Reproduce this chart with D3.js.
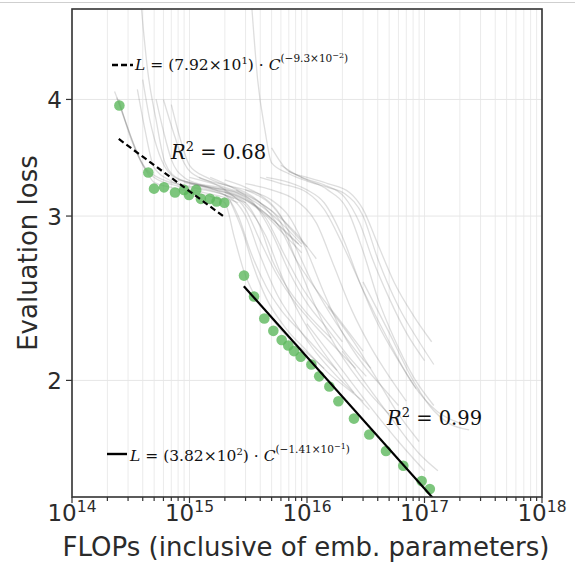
<!DOCTYPE html>
<html>
<head>
<meta charset="utf-8">
<script src="https://cdn.jsdelivr.net/npm/d3@7"></script>
<style>
body { margin: 0; background: #fff; }
svg { display: block; }
</style>
</head>
<body>
<svg id="chart"></svg>
<script>
// compute-optimal frontier (green dots)
var frontierFlops = [2.53e14, 4.46e14, 4.99e14, 6.07e14, 7.53e14, 8.98e14, 9.9e14, 1.14e15, 1.25e15, 1.49e15, 1.70e15, 1.98e15,
                     2.91e15, 3.54e15, 4.33e15, 5.17e15, 6.09e15, 6.93e15, 7.75e15, 8.84e15, 1.09e16, 1.27e16, 1.55e16, 1.85e16,
                     2.51e16, 3.39e16, 4.70e16, 6.60e16, 9.46e16, 1.11e17];
var frontierLoss  = [3.94, 3.34, 3.21, 3.22, 3.18, 3.20, 3.16, 3.20, 3.13, 3.13, 3.11, 3.10,
                     2.59, 2.46, 2.33, 2.26, 2.21, 2.18, 2.15, 2.12, 2.08, 2.02, 1.97, 1.90,
                     1.82, 1.75, 1.68, 1.62, 1.56, 1.53];

// fitted power laws L = a * C^b
var fitDashed = [79.2, -0.093];
var fitDashedRange = [2.5e14, 2e15];
var fitSolid = [382, -0.141];
var fitSolidRange = [2.9e15, 1.2e17];

var xTicks = [1e14, 1e15, 1e16, 1e17, 1e18];
var xTickExp = ["14", "15", "16", "17", "18"];
var yTicks = [2, 3, 4];

// individual training runs [flops, loss]
var runs = [
  [[2.3e14,4.08],[2.6e14,3.92],[3.3e14,3.6],[4.3e14,3.35],[5e14,3.26],[7e14,3.22],[1e15,3.19],[1.5e15,3.15],[2e15,3.12]],
  [[2.4e14,4.02],[3e14,3.72],[4e14,3.4],[5e14,3.3],[8e14,3.23],[1.3e15,3.18],[2e15,3.14],[2.6e15,3.1]],
  [[2.5e14,4.0],[3.2e14,3.62],[4.2e14,3.38],[6e14,3.28],[1e15,3.23],[1.6e15,3.19],[2.4e15,3.13]],
  [[3.6e14,4.1],[4.2e14,3.7],[5e14,3.38],[7e14,3.27],[1e15,3.22],[1.5e15,3.19],[2.2e15,3.15],[3e15,3.1]],
  [[3.9e14,5.0],[4.4e14,4.3],[5.2e14,3.8],[6.2e14,3.42],[8e14,3.29],[1.2e15,3.24],[2e15,3.18],[3e15,3.1],[4e15,2.92],[5e15,2.7],[7e15,2.5],[1e16,2.36],[1.6e16,2.22]],
  [[5.2e14,4.0],[6e14,3.7],[7e14,3.45],[9e14,3.3],[1.3e15,3.24],[2e15,3.2],[3e15,3.13],[5e15,2.98],[7e15,2.86],[9e15,2.78]],
  [[6e14,4.0],[7.5e14,3.65],[9e14,3.42],[1.2e15,3.3],[2e15,3.24],[3e15,3.18],[4e15,3.1],[6e15,2.9],[8e15,2.7],[1.2e16,2.5],[2e16,2.3],[3e16,2.15]],
  [[7e14,3.95],[8.5e14,3.6],[1e15,3.4],[1.4e15,3.3],[2e15,3.24],[3e15,3.2],[5e15,3.08],[7e15,2.92],[1e16,2.78]],
  [[1.5e15,3.15],[2e15,3.1],[2.4e15,2.85],[2.9e15,2.62],[3.5e15,2.48],[5e15,2.33],[7e15,2.22],[1e16,2.14],[1.4e16,2.06]],
  [[1e15,3.25],[2e15,3.16],[2.6e15,3.0],[3.3e15,2.75],[4.5e15,2.52],[6e15,2.38],[9e15,2.25],[1.3e16,2.14],[1.8e16,2.05]],
  [[1.2e15,3.3],[2e15,3.2],[3e15,3.05],[4e15,2.82],[5.5e15,2.6],[8e15,2.42],[1.2e16,2.28],[1.8e16,2.16],[2.6e16,2.06]],
  [[1.5e15,3.3],[2.5e15,3.2],[3.5e15,3.1],[5e15,2.88],[7e15,2.62],[1e16,2.42],[1.5e16,2.27],[2.2e16,2.13],[3.2e16,2.02]],
  [[2e15,3.28],[3e15,3.22],[4e15,3.16],[6e15,3.0],[8e15,2.78],[1.1e16,2.55],[1.6e16,2.35],[2.4e16,2.18],[3.5e16,2.06]],
  [[1e15,3.3],[2e15,3.22],[3e15,3.16],[5e15,3.04],[8e15,2.88],[1.2e16,2.7]],
  [[8e14,3.28],[1.5e15,3.22],[2.5e15,3.18],[4e15,3.08],[6e15,2.95],[9e15,2.8]],
  [[9e14,3.26],[1.6e15,3.2],[2.6e15,3.15],[4e15,3.05],[6e15,2.92],[8.5e15,2.8]],
  [[1.1e15,3.24],[2e15,3.19],[3e15,3.12],[4.5e15,3.0],[6.5e15,2.86],[9e15,2.74]],
  [[4e14,4.2],[4.6e14,3.8],[5.5e14,3.5],[7e14,3.32],[1e15,3.26],[2e15,3.21],[3e15,3.14],[4.5e15,2.98],[6.5e15,2.72],[9e15,2.52],[1.3e16,2.36],[2e16,2.2]],
  [[3.4e15,5.0],[3.8e15,4.2],[4.4e15,3.7],[5e15,3.42],[7e15,3.33],[1e16,3.27],[1.5e16,3.22],[2.1e16,3.17],[3e16,3.0],[4e16,2.7],[6e16,2.4],[9e16,2.2],[1.2e17,2.08]],
  [[5e15,3.55],[7e15,3.35],[1e16,3.3],[1.5e16,3.25],[2.3e16,3.18],[3e16,3.05],[4e16,2.8],[5.5e16,2.55],[8e16,2.35],[1.15e17,2.2]],
  [[6e15,3.4],[9e15,3.3],[1.4e16,3.24],[2.1e16,3.14],[2.8e16,2.95],[3.6e16,2.7],[5e16,2.45],[7e16,2.25],[1e17,2.1]],
  [[7e15,3.35],[1e16,3.28],[1.5e16,3.2],[2.2e16,3.05],[3e16,2.75],[4e16,2.45],[5.5e16,2.22],[8e16,2.02],[1.2e17,1.88]],
  [[4.5e15,3.3],[7e15,3.26],[1e16,3.2],[1.4e16,3.1],[2e16,2.85],[2.8e16,2.55],[4e16,2.3],[6e16,2.1],[8.5e16,1.96]],
  [[3e15,3.25],[5e15,3.2],[8e15,3.12],[1.2e16,2.95],[1.7e16,2.65],[2.4e16,2.38],[3.5e16,2.17],[5e16,2.02],[7e16,1.9]],
  [[3e15,3.2],[5e15,3.12],[7e15,3.0],[1e16,2.75],[1.4e16,2.48],[2e16,2.25],[3e16,2.08],[4.5e16,1.96],[6e16,1.88]],
  [[2.5e15,3.2],[4e15,3.1],[6e15,2.95],[8e15,2.7],[1.1e16,2.45],[1.6e16,2.22],[2.4e16,2.05],[3.5e16,1.93],[5e16,1.84]],
  [[2e15,3.18],[3e15,3.08],[4.5e15,2.85],[6e15,2.6],[8e15,2.4],[1.2e16,2.2],[1.8e16,2.05],[2.6e16,1.93],[3.4e16,1.86]],
  [[2e15,3.16],[3e15,3.0],[4e15,2.72],[5.5e15,2.48],[8e15,2.3],[1.2e16,2.14],[1.8e16,2.02],[2.5e16,1.94]],
  [[2.2e15,3.12],[2.8e15,2.9],[3.5e15,2.65],[4.5e15,2.45],[6.5e15,2.28],[1e16,2.15],[1.5e16,2.04],[2.2e16,1.96],[3e16,1.9]],
  [[1.5e16,2.4],[2.5e16,2.2],[4e16,2.0],[6e16,1.84],[9e16,1.72]],
  [[3e16,2.55],[5e16,2.25],[8e16,2.0],[1.1e17,1.88],[1.6e17,1.8],[2.4e17,1.77]],
  [[1e16,2.3],[2e16,2.05],[3.5e16,1.87],[6e16,1.72],[1e17,1.6]],
  [[2e16,2.15],[3.5e16,1.95],[6e16,1.78],[9e16,1.67],[1.3e17,1.6]],
  [[4e15,3.3],[6e15,3.25],[1e16,3.18],[1.4e16,3.05],[2e16,2.8],[3e16,2.5],[5e16,2.2],[8e16,1.98],[1.3e17,1.85],[2e17,1.8]]
];

var width = 575, height = 563;
var plotL = 72, plotR = 542, plotT = 9, plotB = 497;

var svg = d3.select("#chart").attr("width", width).attr("height", height);

// thin border line at the very top of the picture
svg.append("line").attr("x1", 0).attr("x2", width).attr("y1", 2.5).attr("y2", 2.5)
  .attr("stroke", "#cfcfcf").attr("stroke-width", 1);

var x = d3.scaleLog().domain([1e14, 1e18]).range([plotL, plotR]);
var y = d3.scaleLog().domain([1.5, 5]).range([plotB, plotT]);

svg.append("defs").append("clipPath").attr("id", "plotclip")
  .append("rect").attr("x", plotL).attr("y", plotT).attr("width", plotR - plotL).attr("height", plotB - plotT);

// grid
var minorX = [];
for (var e = 14; e < 18; e++) {
  for (var m = 1; m < 10; m++) minorX.push(m * Math.pow(10, e));
}
minorX.push(1e18);

var grid = svg.append("g");
grid.selectAll("line.vx").data(minorX).enter().append("line")
  .attr("x1", function(d) { return x(d); }).attr("x2", function(d) { return x(d); })
  .attr("y1", plotT).attr("y2", plotB)
  .attr("stroke", "#ebebeb").attr("stroke-width", 1);
grid.selectAll("line.hy").data(yTicks).enter().append("line")
  .attr("x1", plotL).attr("x2", plotR)
  .attr("y1", function(d) { return y(d); }).attr("y2", function(d) { return y(d); })
  .attr("stroke", "#e6e6e6").attr("stroke-width", 1);

var plot = svg.append("g").attr("clip-path", "url(#plotclip)");

// training runs
var line = d3.line()
  .x(function(d) { return x(d[0]); })
  .y(function(d) { return y(d[1]); })
  .curve(d3.curveMonotoneX);

plot.selectAll("path.run").data(runs).enter().append("path")
  .attr("d", line)
  .attr("fill", "none")
  .attr("stroke", "#5a5a5a")
  .attr("stroke-opacity", 0.2)
  .attr("stroke-width", 1.3);

// frontier points
var pts = frontierFlops.map(function(f, i) { return [f, frontierLoss[i]]; });
plot.selectAll("circle").data(pts).enter().append("circle")
  .attr("cx", function(d) { return x(d[0]); })
  .attr("cy", function(d) { return y(d[1]); })
  .attr("r", 5.3)
  .attr("fill", "#5cb85c")
  .attr("fill-opacity", 0.8);

// fit lines
function fitPts(fit, range) {
  return range.map(function(c) { return [c, fit[0] * Math.pow(c, fit[1])]; });
}
var straight = d3.line().x(function(d) { return x(d[0]); }).y(function(d) { return y(d[1]); });
plot.append("path").attr("d", straight(fitPts(fitDashed, fitDashedRange)))
  .attr("fill", "none").attr("stroke", "#000").attr("stroke-width", 2.2).attr("stroke-dasharray", "6,3.5");
plot.append("path").attr("d", straight(fitPts(fitSolid, fitSolidRange)))
  .attr("fill", "none").attr("stroke", "#000").attr("stroke-width", 2.2);

// frame
svg.append("rect").attr("x", plotL).attr("y", plotT).attr("width", plotR - plotL).attr("height", plotB - plotT)
  .attr("fill", "none").attr("stroke", "#333").attr("stroke-width", 1.6);

// x ticks
var xt = svg.append("g");
xt.selectAll("line").data(minorX).enter().append("line")
  .attr("x1", function(d) { return x(d); }).attr("x2", function(d) { return x(d); })
  .attr("y1", plotB).attr("y2", function(d) { return xTicks.indexOf(d) >= 0 ? plotB + 6 : plotB + 4; })
  .attr("stroke", "#333").attr("stroke-width", 1.2);
var xl = xt.selectAll("text").data(xTicks).enter().append("text")
  .attr("x", function(d) { return x(d); })
  .attr("y", 521)
  .attr("text-anchor", "middle")
  .attr("font-family", "DejaVu Sans, sans-serif")
  .attr("font-size", 23)
  .attr("fill", "#2b2b2b");
xl.append("tspan").text("10");
xl.append("tspan").attr("dy", -9).attr("font-size", 15.5).text(function(d, i) { return xTickExp[i]; });

// y ticks
var yt = svg.append("g");
yt.selectAll("line").data(yTicks).enter().append("line")
  .attr("x1", plotL - 6).attr("x2", plotL)
  .attr("y1", function(d) { return y(d); }).attr("y2", function(d) { return y(d); })
  .attr("stroke", "#333").attr("stroke-width", 1.2);
yt.selectAll("text").data(yTicks).enter().append("text")
  .attr("x", 62)
  .attr("y", function(d) { return y(d) + 8.5; })
  .attr("text-anchor", "end")
  .attr("font-family", "DejaVu Sans, sans-serif")
  .attr("font-size", 23)
  .attr("fill", "#2b2b2b")
  .text(function(d) { return d; });

// axis titles
svg.append("text")
  .attr("x", 306).attr("y", 556)
  .attr("text-anchor", "middle")
  .attr("font-family", "DejaVu Sans, sans-serif")
  .attr("font-size", 26)
  .attr("fill", "#2b2b2b")
  .text("FLOPs (inclusive of emb. parameters)");

svg.append("text")
  .attr("transform", "translate(37,253)rotate(-90)")
  .attr("text-anchor", "middle")
  .attr("font-family", "DejaVu Sans, sans-serif")
  .attr("font-size", 26)
  .attr("fill", "#2b2b2b")
  .text("Evaluation loss");

// legend formulas
function formula(xp, yp, coef, cexp, expExp) {
  var t = svg.append("text").attr("x", xp).attr("y", yp)
    .attr("font-family", "DejaVu Serif, serif").attr("font-size", 15.5).attr("fill", "#111");
  t.append("tspan").attr("font-style", "italic").text("L");
  t.append("tspan").text(" = (" + coef[0] + "×10");
  t.append("tspan").attr("font-size", 10).attr("dy", -6).text(coef[1]);
  t.append("tspan").attr("dy", 6).text(") · ");
  t.append("tspan").attr("font-style", "italic").text("C");
  t.append("tspan").attr("font-size", 10.5).attr("dy", -8).text("(" + cexp + "×10");
  t.append("tspan").attr("font-size", 8).attr("dy", -4).text(expExp);
  t.append("tspan").attr("font-size", 10.5).attr("dy", 4).text(")");
}
svg.append("line").attr("x1", 112).attr("x2", 133).attr("y1", 65).attr("y2", 65)
  .attr("stroke", "#000").attr("stroke-width", 2.4).attr("stroke-dasharray", "6,3");
formula(135, 70, ["7.92", "1"], "−9.3", "−2");

svg.append("line").attr("x1", 107).attr("x2", 127).attr("y1", 454).attr("y2", 454)
  .attr("stroke", "#000").attr("stroke-width", 2.4);
formula(130, 461, ["3.82", "2"], "−1.41", "−1");

// R^2 labels
function rsq(xp, yp, val) {
  var t = svg.append("text").attr("x", xp).attr("y", yp)
    .attr("font-family", "DejaVu Serif, serif").attr("font-size", 19.5).attr("fill", "#111");
  t.append("tspan").attr("font-style", "italic").text("R");
  t.append("tspan").attr("font-size", 13).attr("dy", -8).text("2");
  t.append("tspan").attr("dy", 8).text(" = " + val);
}
rsq(171, 159, "0.68");
rsq(387, 425, "0.99");
</script>
</body>
</html>
